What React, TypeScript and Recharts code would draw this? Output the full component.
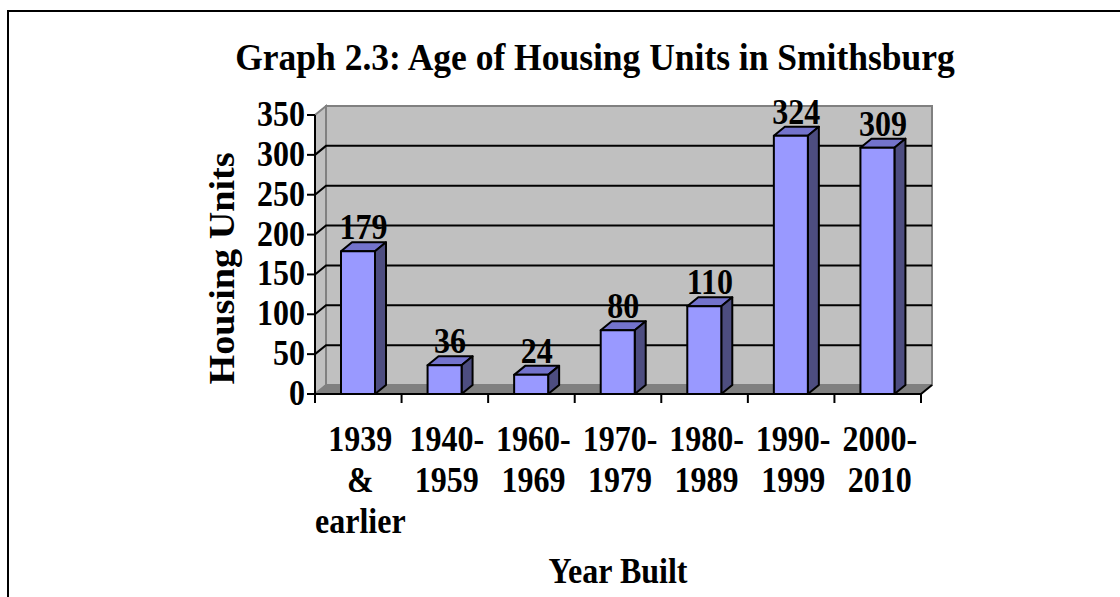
import React from 'react';
import { BarChart, Bar, XAxis, YAxis, CartesianGrid, LabelList, Label } from 'recharts';

const categories = ['1939\n&\nearlier', '1940-\n1959', '1960-\n1969', '1970-\n1979', '1980-\n1989', '1990-\n1999', '2000-\n2010'];
const housingUnits = [179, 36, 24, 80, 110, 324, 309];
const yTicks = [0, 50, 100, 150, 200, 250, 300, 350];
const chartTitle = 'Graph 2.3: Age of Housing Units in Smithsburg';
const xTitle = 'Year Built';
const yTitle = 'Housing Units';

const data = categories.map((c, i) => ({ category: c, units: housingUnits[i] }));

const DX = 11;
const DY = -9;
const FONT = "'Liberation Serif', 'Times New Roman', serif";
const FS = 32;
const SY = 1.09;
const WALL = '#c0c0c0';
const EDGE = '#808080';

const STxt = (p: any) => {
  const { x, y, anchor = 'middle', size = FS, sy = SY, children } = p;
  return (
    <text
      transform={`translate(${x},${y}) scale(1,${sy})`}
      x={0}
      y={0}
      textAnchor={anchor}
      fontFamily={FONT}
      fontWeight="bold"
      fontSize={size}
      fill="#000"
    >
      {children}
    </text>
  );
};

const GridLine = (props: any) => {
  const { x1, x2, y1, index } = props;
  const pts: number[] = props.horizontalPoints || [];
  const top = props.y !== undefined ? props.y : Math.min(...pts);
  const bottom = props.y !== undefined && props.height !== undefined ? props.y + props.height : Math.max(...pts);
  const isEdge = Math.abs(y1 - top) < 0.5 || Math.abs(y1 - bottom) < 0.5;
  return (
    <g>
      {index === 0 && (
        <g>
          <rect x={x1 + DX} y={top + DY} width={x2 - x1} height={bottom - top} fill={WALL} stroke={EDGE} strokeWidth={2} />
          <polygon
            points={`${x1},${bottom} ${x1},${top} ${x1 + DX},${top + DY} ${x1 + DX},${bottom + DY}`}
            fill={WALL}
            stroke={EDGE}
            strokeWidth={2}
          />
          <polygon
            points={`${x1},${bottom} ${x1 + DX},${bottom + DY} ${x2 + DX},${bottom + DY} ${x2},${bottom}`}
            fill={EDGE}
            stroke={EDGE}
            strokeWidth={1}
          />
          <line x1={x2} y1={bottom} x2={x2 + DX} y2={bottom + DY} stroke="#000" strokeWidth={2} />
        </g>
      )}
      {!isEdge && (
        <polyline
          points={`${x1},${y1} ${x1 + DX},${y1 + DY} ${x2 + DX},${y1 + DY}`}
          stroke="#000"
          strokeWidth={2}
          fill="none"
        />
      )}
    </g>
  );
};

const Bar3D = (props: any) => {
  const { x, y, width, height } = props;
  if (height <= 0) return null;
  return (
    <g stroke="#000" strokeWidth={2} strokeLinejoin="round">
      <polygon
        points={`${x},${y} ${x + DX},${y + DY} ${x + width + DX},${y + DY} ${x + width},${y}`}
        fill="#7373cc"
      />
      <polygon
        points={`${x + width},${y} ${x + width + DX},${y + DY} ${x + width + DX},${y + height + DY} ${x + width},${y + height}`}
        fill="#4d4d80"
      />
      <rect x={x} y={y} width={width} height={height} fill="#9999ff" />
    </g>
  );
};

const ValueLabel = (props: any) => {
  const { x, y, width, value } = props;
  return (
    <STxt x={x + width / 2 + DX / 2} y={y + DY - 3}>
      {value}
    </STxt>
  );
};

const XTick = (props: any) => {
  const { x, y, payload, index } = props;
  const off = payload && payload.offset ? payload.offset : 0;
  const lines = String(payload.value).split('\n');
  return (
    <g>
      <line x1={x - off} y1={y} x2={x - off} y2={y + 9} stroke="#000" strokeWidth={2} />
      {index === categories.length - 1 && (
        <line x1={x + off} y1={y} x2={x + off} y2={y + 9} stroke="#000" strokeWidth={2} />
      )}
      {lines.map((l, i) => (
        <STxt key={i} x={x + 2} y={y + 57 + i * 41}>
          {l}
        </STxt>
      ))}
    </g>
  );
};

const YTick = (props: any) => {
  const { x, y, payload } = props;
  return (
    <STxt x={x} y={y + 11} anchor="end">
      {payload.value}
    </STxt>
  );
};

const YTitle = (props: any) => {
  const vb = props.viewBox || {};
  const cx = 222;
  const cy = vb.y + vb.height / 2 + 14;
  return (
    <text
      transform={`translate(${cx},${cy}) scale(1,${SY}) rotate(-90)`}
      x={0}
      y={0}
      textAnchor="middle"
      dominantBaseline="central"
      fontFamily={FONT}
      fontWeight="bold"
      fontSize={35}
      fill="#000"
    >
      {yTitle}
    </text>
  );
};

const XTitle = (props: any) => {
  const vb = props.viewBox || {};
  return (
    <STxt x={vb.x + vb.width / 2} y={vb.y + vb.height - 14}>
      {xTitle}
    </STxt>
  );
};

export default function App() {
  return (
    <div style={{ position: 'absolute', left: 0, top: 0, width: 1120, height: 597, background: '#fff', overflow: 'hidden' }}>
      <div
        style={{
          position: 'absolute',
          left: 7,
          top: 10,
          width: 1200,
          height: 700,
          borderLeft: '2px solid #000',
          borderTop: '2px solid #000',
        }}
      />
      <svg style={{ position: 'absolute', left: 0, top: 0 }} width={1120} height={597}>
        <STxt x={595} y={70} size={35.5} sy={1.05}>
          {chartTitle}
        </STxt>
      </svg>
      <div style={{ position: 'absolute', left: 0, top: 0 }}>
        <BarChart width={1120} height={597} data={data} margin={{ top: 115, right: 199, bottom: 0, left: 0 }}>
          <CartesianGrid vertical={false} horizontal={(p: any) => <GridLine {...p} />} fill="none" />
          <XAxis
            dataKey="category"
            height={203}
            interval={0}
            tickLine={false}
            tickSize={0}
            tickMargin={0}
            axisLine={{ stroke: '#000', strokeWidth: 2 }}
            tick={<XTick />}
          >
            <Label content={<XTitle />} />
          </XAxis>
          <YAxis
            width={315}
            domain={[0, 350]}
            ticks={yTicks}
            interval={0}
            tickSize={8}
            tickMargin={2}
            axisLine={{ stroke: '#000', strokeWidth: 2 }}
            tickLine={{ stroke: '#000', strokeWidth: 2 }}
            tick={<YTick />}
          >
            <Label content={<YTitle />} />
          </YAxis>
          <Bar dataKey="units" barSize={34} shape={<Bar3D />} isAnimationActive={false}>
            <LabelList dataKey="units" content={<ValueLabel />} />
          </Bar>
        </BarChart>
      </div>
    </div>
  );
}
